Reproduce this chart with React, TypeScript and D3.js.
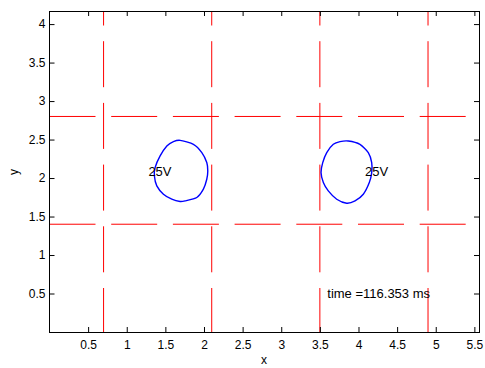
import React, { useEffect, useRef } from 'react';
import * as d3 from 'd3';

// axis ticks
const xTicks = [0.5, 1, 1.5, 2, 2.5, 3, 3.5, 4, 4.5, 5, 5.5];
const yTicks = [0.5, 1, 1.5, 2, 2.5, 3, 3.5, 4];

// dashed divider lines
const dividerX = [0.7, 2.1, 3.5, 4.9];
const dividerY = [1.4, 2.8];

// contour 25V, left blob
const leftContourX = [1.691, 1.863, 1.972, 2.036, 2.049, 2.036, 1.992, 1.907, 1.756, 1.691, 1.583, 1.475, 1.389, 1.358, 1.367, 1.432, 1.519, 1.604];
const leftContourY = [2.490, 2.438, 2.331, 2.201, 2.092, 1.984, 1.855, 1.747, 1.703, 1.695, 1.725, 1.790, 1.898, 2.027, 2.136, 2.287, 2.416, 2.473];

// contour 25V, right blob
const rightContourX = [3.868, 4.019, 4.127, 4.171, 4.171, 4.140, 4.062, 3.955, 3.847, 3.718, 3.609, 3.545, 3.515, 3.537, 3.589, 3.674, 3.761];
const rightContourY = [2.481, 2.438, 2.331, 2.201, 2.071, 1.942, 1.790, 1.703, 1.673, 1.725, 1.833, 1.942, 2.071, 2.201, 2.331, 2.438, 2.473];

// contour labels
const labelText = ['25V', '25V'];
const labelX = [1.28, 4.085];
const labelY = [2.09, 2.09];

const timeText = 'time =116.353 ms';

const width = 485;
const height = 368;
const margin = { top: 11, right: 6, bottom: 36, left: 49.5 };
const font = "'Liberation Sans', Arial, sans-serif";

const App = () => {
  const chartRef = useRef<SVGSVGElement>(null);

  const xScale = d3.scaleLinear().domain([0, 5.56]).range([margin.left, width - margin.right]);
  const yScale = d3.scaleLinear().domain([0, 4.17]).range([height - margin.bottom, margin.top]);

  useEffect(() => {
    const svg = d3.select(chartRef.current);
    svg.selectAll('*').remove();

    const [x0, x1] = xScale.domain();
    const [y0, y1] = yScale.domain();

    // dashed lines
    const line = d3.line<[number, number]>().x(d => xScale(d[0])).y(d => yScale(d[1]));
    const dashes = svg.append('g')
      .attr('fill', 'none')
      .attr('stroke', '#ff0000')
      .attr('stroke-width', 1)
      .attr('stroke-dasharray', '46 15.7');
    dashes.selectAll('path.v')
      .data(dividerX)
      .join('path')
      .attr('class', 'v')
      .attr('stroke-dashoffset', 2)
      .attr('d', d => line([[d, y0], [d, y1]]));
    dashes.selectAll('path.h')
      .data(dividerY)
      .join('path')
      .attr('class', 'h')
      .attr('d', d => line([[x0, d], [x1, d]]));

    // contours
    const contour = d3.line<number>()
      .x(d => d)
      .curve(d3.curveLinearClosed);
    const blobs = [
      leftContourX.map((v, i) => [v, leftContourY[i]] as [number, number]),
      rightContourX.map((v, i) => [v, rightContourY[i]] as [number, number]),
    ];
    const closed = d3.line<[number, number]>()
      .x(d => xScale(d[0]))
      .y(d => yScale(d[1]))
      .curve(d3.curveCardinalClosed.tension(0.3));
    void contour;
    svg.append('g')
      .attr('fill', 'none')
      .attr('stroke', '#0000ff')
      .attr('stroke-width', 1.4)
      .selectAll('path')
      .data(blobs)
      .join('path')
      .attr('d', d => closed(d));

    // contour labels
    svg.append('g')
      .attr('font-family', font)
      .attr('font-size', 13)
      .attr('fill', '#000')
      .selectAll('text')
      .data(labelText)
      .join('text')
      .attr('x', (d, i) => xScale(labelX[i]))
      .attr('y', (d, i) => yScale(labelY[i]))
      .attr('dy', '0.35em')
      .text(d => d);

    svg.append('text')
      .attr('font-family', font)
      .attr('font-size', 13)
      .attr('x', xScale(3.596))
      .attr('y', yScale(0.5))
      .attr('dy', '0.35em')
      .text(timeText);

    // axes (ticks point inward, box on all four sides)
    const styleAxis = (g: any) => {
      g.attr('font-family', font).attr('font-size', 12);
      g.select('.domain').remove();
      g.selectAll('.tick line').attr('stroke', '#000');
      g.selectAll('.tick text').attr('fill', '#000');
    };

    svg.append('g')
      .attr('transform', `translate(0, ${height - margin.bottom})`)
      .call(d3.axisBottom(xScale).tickValues(xTicks).tickSize(-5).tickPadding(8).tickFormat(d3.format('')))
      .call(styleAxis);
    svg.append('g')
      .attr('transform', `translate(0, ${margin.top})`)
      .call(d3.axisTop(xScale).tickValues(xTicks).tickSize(-5).tickFormat(() => ''))
      .call(styleAxis);
    svg.append('g')
      .attr('transform', `translate(${margin.left}, 0)`)
      .call(d3.axisLeft(yScale).tickValues(yTicks).tickSize(-5).tickPadding(4).tickFormat(d3.format('')))
      .call(styleAxis);
    svg.append('g')
      .attr('transform', `translate(${width - margin.right}, 0)`)
      .call(d3.axisRight(yScale).tickValues(yTicks).tickSize(-5).tickFormat(() => ''))
      .call(styleAxis);

    svg.append('rect')
      .attr('x', xScale(x0))
      .attr('y', yScale(y1))
      .attr('width', xScale(x1) - xScale(x0))
      .attr('height', yScale(y0) - yScale(y1))
      .attr('fill', 'none')
      .attr('stroke', '#000')
      .attr('stroke-width', 1)
      .attr('shape-rendering', 'crispEdges');

    // axis titles
    svg.append('text')
      .attr('font-family', font)
      .attr('font-size', 12)
      .attr('text-anchor', 'middle')
      .attr('x', 264)
      .attr('y', 364)
      .text('x');
    svg.append('text')
      .attr('font-family', font)
      .attr('font-size', 12)
      .attr('text-anchor', 'middle')
      .attr('transform', `translate(18, ${yScale(2.08)}) rotate(-90)`)
      .text('y');
  });

  return (
    <svg
      ref={chartRef}
      width={width}
      height={height}
      viewBox={`0 0 ${width} ${height}`}
      style={{ position: 'absolute', left: 0, top: 0, background: '#fff' }}
    />
  );
};

export default App;
